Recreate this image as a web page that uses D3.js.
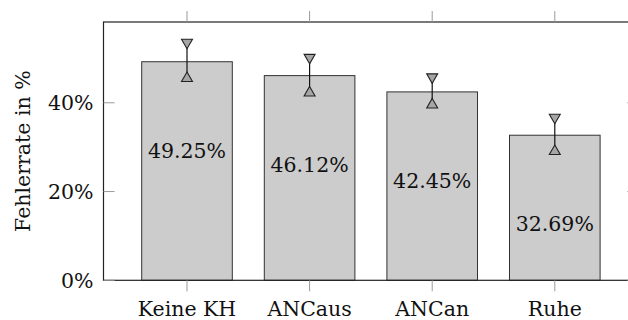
<!DOCTYPE html>
<html>

<head>
    <title>Fehlerrate</title>
    <script src='https://cdn.jsdelivr.net/npm/d3@7'></script>
    <style type='text/css'>
        html,
        body {
            margin: 0;
            padding: 0;
            overflow: hidden;
            background: white;
        }

        svg {
            display: block;
        }

        text {
            fill: #111;
        }
    </style>
</head>

<body>
    <script>
        // Data:
        const categories = ['Keine KH', 'ANCaus', 'ANCan', 'Ruhe'];
        const rates = [49.25, 46.12, 42.45, 32.69];       // bar heights in %
        const errHigh = [53.6, 50.2, 45.8, 36.7];         // upper end of error bar
        const errLow = [45.5, 42.25, 39.55, 29.05];       // lower end of error bar
        const yTicks = [0, 20, 40];

        const rows = categories.map((c, i) => ({ cat: c, v: rates[i], hi: errHigh[i], lo: errLow[i] }));

        // page setup and dimensions:
        const width = 628, height = 320;
        const svg = d3.select('body').append('svg')
            .attr('width', width)
            .attr('height', height)
            .attr('font-family', 'DejaVu Serif');

        // plot box (right edge sits just outside the window, like the original)
        const boxLeft = 103.5, boxRight = 638.3, boxTop = 22, boxBottom = 280.3;

        const x = d3.scaleBand()
            .domain(categories)
            .range([boxLeft, boxRight])
            .paddingInner(0.261)
            .paddingOuter(0.3116);
        const y = d3.scaleLinear()
            .domain([0, 58.2])
            .range([boxBottom, boxTop]);

        const fontSize = 20.5;
        const tickColor = '#9a9a9a';

        // Bars:
        svg.append('g')
            .selectAll('rect')
            .data(rows).join('rect')
            .attr('x', d => x(d.cat))
            .attr('y', d => y(d.v))
            .attr('width', x.bandwidth())
            .attr('height', d => y(0) - y(d.v))
            .attr('fill', '#cccccc')
            .attr('stroke', '#333')
            .attr('stroke-width', 1);

        // Value labels inside the bars:
        svg.append('g')
            .selectAll('text')
            .data(rows).join('text')
            .attr('x', d => x(d.cat) + x.bandwidth() / 2)
            .attr('y', d => y(d.v - 20) + 7.5)
            .attr('text-anchor', 'middle')
            .attr('font-size', fontSize)
            .text(d => d.v.toFixed(2) + '%');

        // Error bars:
        const err = svg.append('g')
            .selectAll('g')
            .data(rows).join('g')
            .attr('transform', d => `translate(${x(d.cat) + x.bandwidth() / 2},0)`);
        err.append('line')
            .attr('y1', d => y(d.hi))
            .attr('y2', d => y(d.lo))
            .attr('stroke', '#111')
            .attr('stroke-width', 1.2);
        const tri = d3.symbol(d3.symbolTriangle, 52);
        err.append('path')                          // upper mark points down
            .attr('d', tri)
            .attr('transform', d => `translate(0,${y(d.hi)}) rotate(180)`)
            .attr('fill', '#a6a6a6')
            .attr('stroke', '#222')
            .attr('stroke-width', 1.1);
        err.append('path')                          // lower mark points up
            .attr('d', tri)
            .attr('transform', d => `translate(0,${y(d.lo)})`)
            .attr('fill', '#a6a6a6')
            .attr('stroke', '#222')
            .attr('stroke-width', 1.1);

        // Axis box:
        svg.append('rect')
            .attr('x', boxLeft)
            .attr('y', boxTop)
            .attr('width', boxRight - boxLeft)
            .attr('height', boxBottom - boxTop)
            .attr('fill', 'none')
            .attr('stroke', '#222')
            .attr('stroke-width', 1.2);

        // Ticks: x outside (top & bottom), y inside (left & right)
        const tk = svg.append('g').attr('stroke', tickColor).attr('stroke-width', 1);
        categories.forEach(c => {
            const cx = x(c) + x.bandwidth() / 2;
            tk.append('line').attr('x1', cx).attr('x2', cx).attr('y1', boxBottom).attr('y2', boxBottom + 11);
            tk.append('line').attr('x1', cx).attr('x2', cx).attr('y1', boxTop).attr('y2', boxTop - 11);
        });
        yTicks.forEach(t => {
            tk.append('line').attr('x1', boxLeft).attr('x2', boxLeft + 11).attr('y1', y(t)).attr('y2', y(t));
            tk.append('line').attr('x1', boxRight).attr('x2', boxRight - 11).attr('y1', y(t)).attr('y2', y(t));
        });

        // Tick labels:
        svg.append('g')
            .selectAll('text')
            .data(yTicks).join('text')
            .attr('x', boxLeft - 10)
            .attr('y', d => y(d) + 7.5)
            .attr('text-anchor', 'end')
            .attr('font-size', fontSize)
            .text(d => d + '%');
        svg.append('g')
            .selectAll('text')
            .data(categories).join('text')
            .attr('x', d => x(d) + x.bandwidth() / 2)
            .attr('y', 316)
            .attr('text-anchor', 'middle')
            .attr('font-size', fontSize)
            .text(d => d);

        // Y axis title:
        svg.append('text')
            .attr('transform', `translate(30,${(boxTop + boxBottom) / 2}) rotate(-90)`)
            .attr('text-anchor', 'middle')
            .attr('font-size', fontSize)
            .text('Fehlerrate in %');
    </script>
</body>

</html>
